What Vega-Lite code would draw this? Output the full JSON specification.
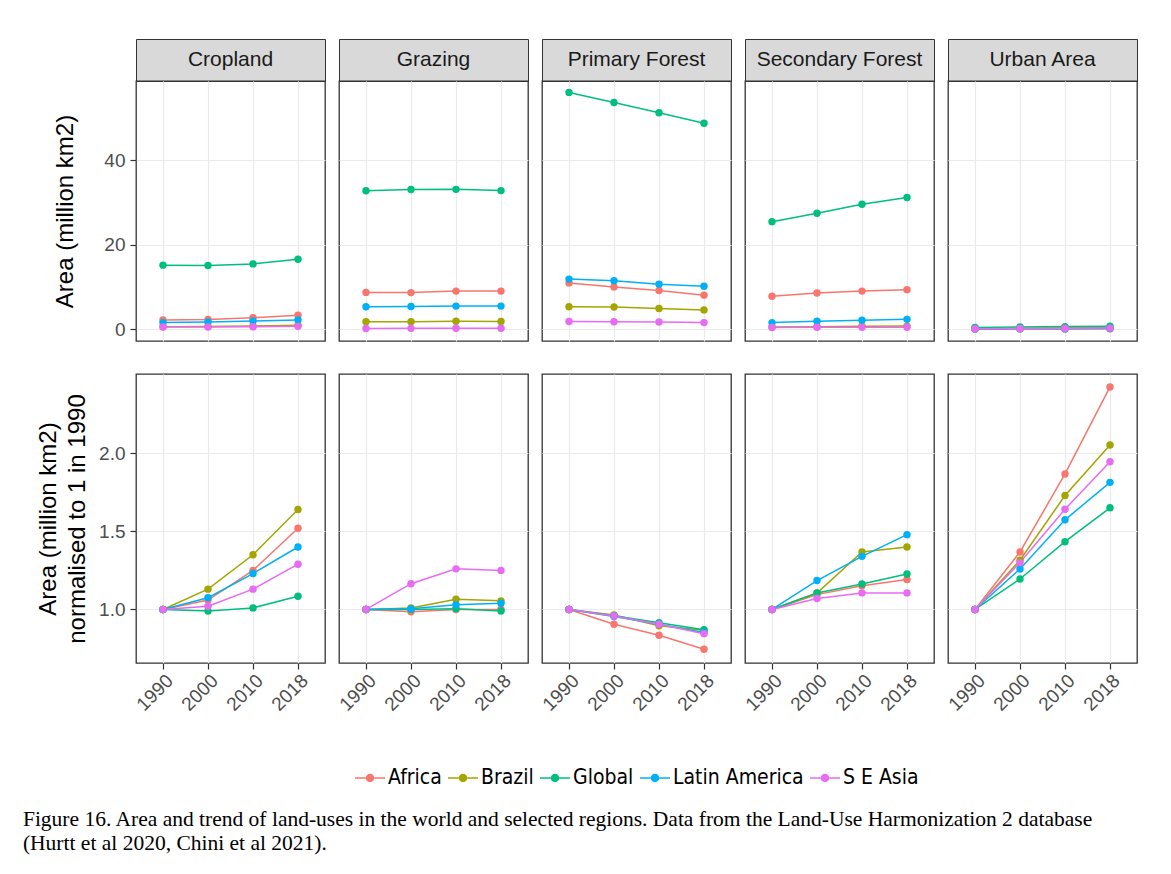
{
  "$schema": "https://vega.github.io/schema/vega-lite/v6.json",
  "background": "white",
  "padding": {"left": 22, "top": 38, "right": 5, "bottom": 5},
  "config": {
    "view": {"stroke": "#333333", "strokeWidth": 1.3},
    "axis": {"gridColor": "#ebebeb", "gridWidth": 1.2, "tickColor": "#333333", "tickSize": 6, "tickWidth": 1.2, "labelColor": "#4d4d4d", "labelFont": "Liberation Sans", "labelFontSize": 19, "labelPadding": 5, "domain": false, "titleFont": "Liberation Sans", "titleFontSize": 24, "titleFontWeight": "normal", "titleColor": "#000000"},
    "line": {"strokeWidth": 1.5},
    "point": {"filled": true, "size": 55, "opacity": 1},
    "title": {"font": "Liberation Serif", "fontSize": 21.5, "fontWeight": "normal", "color": "#000000"}
  },
  "title": {"text": ["Figure 16. Area and trend of land-uses in the world and selected regions. Data from the Land-Use Harmonization 2 database", "(Hurtt et al 2020, Chini et al 2021)."], "orient": "bottom", "anchor": "start", "lineHeight": 24, "offset": 21, "dx": -13},
  "datasets": {
    "abs": [
      {"use": "Cropland", "region": "Africa", "year": 1990, "value": 2.2}, {"use": "Cropland", "region": "Africa", "year": 2000, "value": 2.35}, {"use": "Cropland", "region": "Africa", "year": 2010, "value": 2.75}, {"use": "Cropland", "region": "Africa", "year": 2018, "value": 3.35},
      {"use": "Cropland", "region": "Brazil", "year": 1990, "value": 0.6}, {"use": "Cropland", "region": "Brazil", "year": 2000, "value": 0.68}, {"use": "Cropland", "region": "Brazil", "year": 2010, "value": 0.81}, {"use": "Cropland", "region": "Brazil", "year": 2018, "value": 0.98},
      {"use": "Cropland", "region": "Global", "year": 1990, "value": 15.2}, {"use": "Cropland", "region": "Global", "year": 2000, "value": 15.1}, {"use": "Cropland", "region": "Global", "year": 2010, "value": 15.5}, {"use": "Cropland", "region": "Global", "year": 2018, "value": 16.6},
      {"use": "Cropland", "region": "Latin America", "year": 1990, "value": 1.6}, {"use": "Cropland", "region": "Latin America", "year": 2000, "value": 1.72}, {"use": "Cropland", "region": "Latin America", "year": 2010, "value": 1.97}, {"use": "Cropland", "region": "Latin America", "year": 2018, "value": 2.24},
      {"use": "Cropland", "region": "S E Asia", "year": 1990, "value": 0.55}, {"use": "Cropland", "region": "S E Asia", "year": 2000, "value": 0.56}, {"use": "Cropland", "region": "S E Asia", "year": 2010, "value": 0.62}, {"use": "Cropland", "region": "S E Asia", "year": 2018, "value": 0.71},
      {"use": "Grazing", "region": "Africa", "year": 1990, "value": 8.75}, {"use": "Grazing", "region": "Africa", "year": 2000, "value": 8.7}, {"use": "Grazing", "region": "Africa", "year": 2010, "value": 9.05}, {"use": "Grazing", "region": "Africa", "year": 2018, "value": 9.05},
      {"use": "Grazing", "region": "Brazil", "year": 1990, "value": 1.8}, {"use": "Grazing", "region": "Brazil", "year": 2000, "value": 1.82}, {"use": "Grazing", "region": "Brazil", "year": 2010, "value": 1.9}, {"use": "Grazing", "region": "Brazil", "year": 2018, "value": 1.88},
      {"use": "Grazing", "region": "Global", "year": 1990, "value": 32.8}, {"use": "Grazing", "region": "Global", "year": 2000, "value": 33.1}, {"use": "Grazing", "region": "Global", "year": 2010, "value": 33.15}, {"use": "Grazing", "region": "Global", "year": 2018, "value": 32.85},
      {"use": "Grazing", "region": "Latin America", "year": 1990, "value": 5.35}, {"use": "Grazing", "region": "Latin America", "year": 2000, "value": 5.4}, {"use": "Grazing", "region": "Latin America", "year": 2010, "value": 5.5}, {"use": "Grazing", "region": "Latin America", "year": 2018, "value": 5.5},
      {"use": "Grazing", "region": "S E Asia", "year": 1990, "value": 0.2}, {"use": "Grazing", "region": "S E Asia", "year": 2000, "value": 0.23}, {"use": "Grazing", "region": "S E Asia", "year": 2010, "value": 0.25}, {"use": "Grazing", "region": "S E Asia", "year": 2018, "value": 0.25},
      {"use": "Primary Forest", "region": "Africa", "year": 1990, "value": 11.0}, {"use": "Primary Forest", "region": "Africa", "year": 2000, "value": 10.05}, {"use": "Primary Forest", "region": "Africa", "year": 2010, "value": 9.2}, {"use": "Primary Forest", "region": "Africa", "year": 2018, "value": 8.1},
      {"use": "Primary Forest", "region": "Brazil", "year": 1990, "value": 5.35}, {"use": "Primary Forest", "region": "Brazil", "year": 2000, "value": 5.3}, {"use": "Primary Forest", "region": "Brazil", "year": 2010, "value": 4.95}, {"use": "Primary Forest", "region": "Brazil", "year": 2018, "value": 4.6},
      {"use": "Primary Forest", "region": "Global", "year": 1990, "value": 56.1}, {"use": "Primary Forest", "region": "Global", "year": 2000, "value": 53.7}, {"use": "Primary Forest", "region": "Global", "year": 2010, "value": 51.3}, {"use": "Primary Forest", "region": "Global", "year": 2018, "value": 48.8},
      {"use": "Primary Forest", "region": "Latin America", "year": 1990, "value": 11.9}, {"use": "Primary Forest", "region": "Latin America", "year": 2000, "value": 11.5}, {"use": "Primary Forest", "region": "Latin America", "year": 2010, "value": 10.7}, {"use": "Primary Forest", "region": "Latin America", "year": 2018, "value": 10.2},
      {"use": "Primary Forest", "region": "S E Asia", "year": 1990, "value": 1.85}, {"use": "Primary Forest", "region": "S E Asia", "year": 2000, "value": 1.8}, {"use": "Primary Forest", "region": "S E Asia", "year": 2010, "value": 1.72}, {"use": "Primary Forest", "region": "S E Asia", "year": 2018, "value": 1.6},
      {"use": "Secondary Forest", "region": "Africa", "year": 1990, "value": 7.85}, {"use": "Secondary Forest", "region": "Africa", "year": 2000, "value": 8.6}, {"use": "Secondary Forest", "region": "Africa", "year": 2010, "value": 9.05}, {"use": "Secondary Forest", "region": "Africa", "year": 2018, "value": 9.4},
      {"use": "Secondary Forest", "region": "Brazil", "year": 1990, "value": 0.55}, {"use": "Secondary Forest", "region": "Brazil", "year": 2000, "value": 0.6}, {"use": "Secondary Forest", "region": "Brazil", "year": 2010, "value": 0.75}, {"use": "Secondary Forest", "region": "Brazil", "year": 2018, "value": 0.77},
      {"use": "Secondary Forest", "region": "Global", "year": 1990, "value": 25.5}, {"use": "Secondary Forest", "region": "Global", "year": 2000, "value": 27.5}, {"use": "Secondary Forest", "region": "Global", "year": 2010, "value": 29.6}, {"use": "Secondary Forest", "region": "Global", "year": 2018, "value": 31.2},
      {"use": "Secondary Forest", "region": "Latin America", "year": 1990, "value": 1.6}, {"use": "Secondary Forest", "region": "Latin America", "year": 2000, "value": 1.9}, {"use": "Secondary Forest", "region": "Latin America", "year": 2010, "value": 2.15}, {"use": "Secondary Forest", "region": "Latin America", "year": 2018, "value": 2.37},
      {"use": "Secondary Forest", "region": "S E Asia", "year": 1990, "value": 0.45}, {"use": "Secondary Forest", "region": "S E Asia", "year": 2000, "value": 0.48}, {"use": "Secondary Forest", "region": "S E Asia", "year": 2010, "value": 0.5}, {"use": "Secondary Forest", "region": "S E Asia", "year": 2018, "value": 0.5},
      {"use": "Urban Area", "region": "Africa", "year": 1990, "value": 0.05}, {"use": "Urban Area", "region": "Africa", "year": 2000, "value": 0.07}, {"use": "Urban Area", "region": "Africa", "year": 2010, "value": 0.09}, {"use": "Urban Area", "region": "Africa", "year": 2018, "value": 0.12},
      {"use": "Urban Area", "region": "Brazil", "year": 1990, "value": 0.2}, {"use": "Urban Area", "region": "Brazil", "year": 2000, "value": 0.26}, {"use": "Urban Area", "region": "Brazil", "year": 2010, "value": 0.35}, {"use": "Urban Area", "region": "Brazil", "year": 2018, "value": 0.41},
      {"use": "Urban Area", "region": "Global", "year": 1990, "value": 0.45}, {"use": "Urban Area", "region": "Global", "year": 2000, "value": 0.54}, {"use": "Urban Area", "region": "Global", "year": 2010, "value": 0.65}, {"use": "Urban Area", "region": "Global", "year": 2018, "value": 0.74},
      {"use": "Urban Area", "region": "Latin America", "year": 1990, "value": 0.1}, {"use": "Urban Area", "region": "Latin America", "year": 2000, "value": 0.13}, {"use": "Urban Area", "region": "Latin America", "year": 2010, "value": 0.16}, {"use": "Urban Area", "region": "Latin America", "year": 2018, "value": 0.18},
      {"use": "Urban Area", "region": "S E Asia", "year": 1990, "value": 0.15}, {"use": "Urban Area", "region": "S E Asia", "year": 2000, "value": 0.19}, {"use": "Urban Area", "region": "S E Asia", "year": 2010, "value": 0.25}, {"use": "Urban Area", "region": "S E Asia", "year": 2018, "value": 0.29}
    ],
    "norm": [
      {"use": "Cropland", "region": "Africa", "year": 1990, "value": 1}, {"use": "Cropland", "region": "Africa", "year": 2000, "value": 1.06}, {"use": "Cropland", "region": "Africa", "year": 2010, "value": 1.25}, {"use": "Cropland", "region": "Africa", "year": 2018, "value": 1.52},
      {"use": "Cropland", "region": "Brazil", "year": 1990, "value": 1}, {"use": "Cropland", "region": "Brazil", "year": 2000, "value": 1.13}, {"use": "Cropland", "region": "Brazil", "year": 2010, "value": 1.35}, {"use": "Cropland", "region": "Brazil", "year": 2018, "value": 1.64},
      {"use": "Cropland", "region": "Global", "year": 1990, "value": 1}, {"use": "Cropland", "region": "Global", "year": 2000, "value": 0.99}, {"use": "Cropland", "region": "Global", "year": 2010, "value": 1.01}, {"use": "Cropland", "region": "Global", "year": 2018, "value": 1.085},
      {"use": "Cropland", "region": "Latin America", "year": 1990, "value": 1}, {"use": "Cropland", "region": "Latin America", "year": 2000, "value": 1.075}, {"use": "Cropland", "region": "Latin America", "year": 2010, "value": 1.23}, {"use": "Cropland", "region": "Latin America", "year": 2018, "value": 1.4},
      {"use": "Cropland", "region": "S E Asia", "year": 1990, "value": 1}, {"use": "Cropland", "region": "S E Asia", "year": 2000, "value": 1.02}, {"use": "Cropland", "region": "S E Asia", "year": 2010, "value": 1.13}, {"use": "Cropland", "region": "S E Asia", "year": 2018, "value": 1.29},
      {"use": "Grazing", "region": "Africa", "year": 1990, "value": 1}, {"use": "Grazing", "region": "Africa", "year": 2000, "value": 0.985}, {"use": "Grazing", "region": "Africa", "year": 2010, "value": 1.0}, {"use": "Grazing", "region": "Africa", "year": 2018, "value": 1.0},
      {"use": "Grazing", "region": "Brazil", "year": 1990, "value": 1}, {"use": "Grazing", "region": "Brazil", "year": 2000, "value": 1.01}, {"use": "Grazing", "region": "Brazil", "year": 2010, "value": 1.065}, {"use": "Grazing", "region": "Brazil", "year": 2018, "value": 1.055},
      {"use": "Grazing", "region": "Global", "year": 1990, "value": 1}, {"use": "Grazing", "region": "Global", "year": 2000, "value": 1.0}, {"use": "Grazing", "region": "Global", "year": 2010, "value": 1.005}, {"use": "Grazing", "region": "Global", "year": 2018, "value": 0.99},
      {"use": "Grazing", "region": "Latin America", "year": 1990, "value": 1}, {"use": "Grazing", "region": "Latin America", "year": 2000, "value": 1.005}, {"use": "Grazing", "region": "Latin America", "year": 2010, "value": 1.03}, {"use": "Grazing", "region": "Latin America", "year": 2018, "value": 1.04},
      {"use": "Grazing", "region": "S E Asia", "year": 1990, "value": 1}, {"use": "Grazing", "region": "S E Asia", "year": 2000, "value": 1.165}, {"use": "Grazing", "region": "S E Asia", "year": 2010, "value": 1.26}, {"use": "Grazing", "region": "S E Asia", "year": 2018, "value": 1.25},
      {"use": "Primary Forest", "region": "Africa", "year": 1990, "value": 1}, {"use": "Primary Forest", "region": "Africa", "year": 2000, "value": 0.905}, {"use": "Primary Forest", "region": "Africa", "year": 2010, "value": 0.835}, {"use": "Primary Forest", "region": "Africa", "year": 2018, "value": 0.745},
      {"use": "Primary Forest", "region": "Brazil", "year": 1990, "value": 1}, {"use": "Primary Forest", "region": "Brazil", "year": 2000, "value": 0.965}, {"use": "Primary Forest", "region": "Brazil", "year": 2010, "value": 0.895}, {"use": "Primary Forest", "region": "Brazil", "year": 2018, "value": 0.867},
      {"use": "Primary Forest", "region": "Global", "year": 1990, "value": 1}, {"use": "Primary Forest", "region": "Global", "year": 2000, "value": 0.96}, {"use": "Primary Forest", "region": "Global", "year": 2010, "value": 0.915}, {"use": "Primary Forest", "region": "Global", "year": 2018, "value": 0.87},
      {"use": "Primary Forest", "region": "Latin America", "year": 1990, "value": 1}, {"use": "Primary Forest", "region": "Latin America", "year": 2000, "value": 0.955}, {"use": "Primary Forest", "region": "Latin America", "year": 2010, "value": 0.905}, {"use": "Primary Forest", "region": "Latin America", "year": 2018, "value": 0.853},
      {"use": "Primary Forest", "region": "S E Asia", "year": 1990, "value": 1}, {"use": "Primary Forest", "region": "S E Asia", "year": 2000, "value": 0.958}, {"use": "Primary Forest", "region": "S E Asia", "year": 2010, "value": 0.905}, {"use": "Primary Forest", "region": "S E Asia", "year": 2018, "value": 0.845},
      {"use": "Secondary Forest", "region": "Africa", "year": 1990, "value": 1}, {"use": "Secondary Forest", "region": "Africa", "year": 2000, "value": 1.095}, {"use": "Secondary Forest", "region": "Africa", "year": 2010, "value": 1.152}, {"use": "Secondary Forest", "region": "Africa", "year": 2018, "value": 1.192},
      {"use": "Secondary Forest", "region": "Brazil", "year": 1990, "value": 1}, {"use": "Secondary Forest", "region": "Brazil", "year": 2000, "value": 1.105}, {"use": "Secondary Forest", "region": "Brazil", "year": 2010, "value": 1.368}, {"use": "Secondary Forest", "region": "Brazil", "year": 2018, "value": 1.4},
      {"use": "Secondary Forest", "region": "Global", "year": 1990, "value": 1}, {"use": "Secondary Forest", "region": "Global", "year": 2000, "value": 1.105}, {"use": "Secondary Forest", "region": "Global", "year": 2010, "value": 1.163}, {"use": "Secondary Forest", "region": "Global", "year": 2018, "value": 1.227},
      {"use": "Secondary Forest", "region": "Latin America", "year": 1990, "value": 1}, {"use": "Secondary Forest", "region": "Latin America", "year": 2000, "value": 1.185}, {"use": "Secondary Forest", "region": "Latin America", "year": 2010, "value": 1.34}, {"use": "Secondary Forest", "region": "Latin America", "year": 2018, "value": 1.479},
      {"use": "Secondary Forest", "region": "S E Asia", "year": 1990, "value": 1}, {"use": "Secondary Forest", "region": "S E Asia", "year": 2000, "value": 1.07}, {"use": "Secondary Forest", "region": "S E Asia", "year": 2010, "value": 1.106}, {"use": "Secondary Forest", "region": "S E Asia", "year": 2018, "value": 1.106},
      {"use": "Urban Area", "region": "Africa", "year": 1990, "value": 1}, {"use": "Urban Area", "region": "Africa", "year": 2000, "value": 1.368}, {"use": "Urban Area", "region": "Africa", "year": 2010, "value": 1.868}, {"use": "Urban Area", "region": "Africa", "year": 2018, "value": 2.425},
      {"use": "Urban Area", "region": "Brazil", "year": 1990, "value": 1}, {"use": "Urban Area", "region": "Brazil", "year": 2000, "value": 1.315}, {"use": "Urban Area", "region": "Brazil", "year": 2010, "value": 1.73}, {"use": "Urban Area", "region": "Brazil", "year": 2018, "value": 2.053},
      {"use": "Urban Area", "region": "Global", "year": 1990, "value": 1}, {"use": "Urban Area", "region": "Global", "year": 2000, "value": 1.195}, {"use": "Urban Area", "region": "Global", "year": 2010, "value": 1.434}, {"use": "Urban Area", "region": "Global", "year": 2018, "value": 1.651},
      {"use": "Urban Area", "region": "Latin America", "year": 1990, "value": 1}, {"use": "Urban Area", "region": "Latin America", "year": 2000, "value": 1.259}, {"use": "Urban Area", "region": "Latin America", "year": 2010, "value": 1.574}, {"use": "Urban Area", "region": "Latin America", "year": 2018, "value": 1.814},
      {"use": "Urban Area", "region": "S E Asia", "year": 1990, "value": 1}, {"use": "Urban Area", "region": "S E Asia", "year": 2000, "value": 1.3}, {"use": "Urban Area", "region": "S E Asia", "year": 2010, "value": 1.642}, {"use": "Urban Area", "region": "S E Asia", "year": 2018, "value": 1.946}
    ]
  },
  "columns": 5,
  "spacing": {"row": 0, "column": 14},
  "bounds": "flush",
  "concat": [
    {"width": 189, "height": 42, "view": {"fill": "#d9d9d9", "stroke": "#333333"}, "data": {"values": [{"use": "Cropland"}]}, "mark": {"type": "text", "font": "Liberation Sans", "fontSize": 21, "color": "#1a1a1a"}, "encoding": {"text": {"field": "use"}}},
    {"width": 189, "height": 42, "view": {"fill": "#d9d9d9", "stroke": "#333333"}, "data": {"values": [{"use": "Grazing"}]}, "mark": {"type": "text", "font": "Liberation Sans", "fontSize": 21, "color": "#1a1a1a"}, "encoding": {"text": {"field": "use"}}},
    {"width": 189, "height": 42, "view": {"fill": "#d9d9d9", "stroke": "#333333"}, "data": {"values": [{"use": "Primary Forest"}]}, "mark": {"type": "text", "font": "Liberation Sans", "fontSize": 21, "color": "#1a1a1a"}, "encoding": {"text": {"field": "use"}}},
    {"width": 189, "height": 42, "view": {"fill": "#d9d9d9", "stroke": "#333333"}, "data": {"values": [{"use": "Secondary Forest"}]}, "mark": {"type": "text", "font": "Liberation Sans", "fontSize": 21, "color": "#1a1a1a"}, "encoding": {"text": {"field": "use"}}},
    {"width": 189, "height": 42, "view": {"fill": "#d9d9d9", "stroke": "#333333"}, "data": {"values": [{"use": "Urban Area"}]}, "mark": {"type": "text", "font": "Liberation Sans", "fontSize": 21, "color": "#1a1a1a"}, "encoding": {"text": {"field": "use"}}},

    {"width": 189, "height": 260, "data": {"name": "abs"}, "transform": [{"filter": {"field": "use", "equal": "Cropland"}}],
     "encoding": {"x": {"field": "year", "type": "ordinal", "scale": {"type": "point", "padding": 0.6}, "axis": {"grid": true, "labels": false, "ticks": false, "title": null}},
       "y": {"field": "value", "type": "quantitative", "scale": {"domain": [-2.76, 58.8], "nice": false, "zero": false}, "axis": {"values": [0, 20, 40], "title": "Area (million km2)", "titlePadding": 26}},
       "color": {"field": "region", "type": "nominal", "scale": {"domain": ["Africa", "Brazil", "Global", "Latin America", "S E Asia"], "range": ["#F8766D", "#A3A500", "#00BF7D", "#00B0F6", "#E76BF3"]},
         "legend": {"orient": "none", "legendX": 219, "legendY": 724, "direction": "horizontal", "title": null, "symbolType": "M-1,-0.055H-0.28V0.055H-1Z M0.28,-0.055H1V0.055H0.28Z M-0.28,0A0.28,0.28,0,1,0,0.28,0A0.28,0.28,0,1,0,-0.28,0Z", "symbolSize": 900, "symbolStrokeWidth": 0, "labelFont": "DejaVu Sans Condensed, Liberation Sans", "labelFontSize": 21, "labelColor": "#000000", "labelOffset": 3, "columnPadding": 6,
           "encode": {"symbols": {"update": {"fill": {"scale": "color", "field": "value"}, "stroke": {"value": "transparent"}, "opacity": {"value": 1}}}}}}},
     "layer": [{"mark": "line"}, {"mark": "point"}]},
    {"width": 189, "height": 260, "data": {"name": "abs"}, "transform": [{"filter": {"field": "use", "equal": "Grazing"}}],
     "encoding": {"x": {"field": "year", "type": "ordinal", "scale": {"type": "point", "padding": 0.6}, "axis": {"grid": true, "labels": false, "ticks": false, "title": null}},
       "y": {"field": "value", "type": "quantitative", "scale": {"domain": [-2.76, 58.8], "nice": false, "zero": false}, "axis": {"values": [0, 20, 40], "labels": false, "ticks": false, "title": null}},
       "color": {"field": "region", "type": "nominal", "scale": {"domain": ["Africa", "Brazil", "Global", "Latin America", "S E Asia"], "range": ["#F8766D", "#A3A500", "#00BF7D", "#00B0F6", "#E76BF3"]}}},
     "layer": [{"mark": "line"}, {"mark": "point"}]},
    {"width": 189, "height": 260, "data": {"name": "abs"}, "transform": [{"filter": {"field": "use", "equal": "Primary Forest"}}],
     "encoding": {"x": {"field": "year", "type": "ordinal", "scale": {"type": "point", "padding": 0.6}, "axis": {"grid": true, "labels": false, "ticks": false, "title": null}},
       "y": {"field": "value", "type": "quantitative", "scale": {"domain": [-2.76, 58.8], "nice": false, "zero": false}, "axis": {"values": [0, 20, 40], "labels": false, "ticks": false, "title": null}},
       "color": {"field": "region", "type": "nominal", "scale": {"domain": ["Africa", "Brazil", "Global", "Latin America", "S E Asia"], "range": ["#F8766D", "#A3A500", "#00BF7D", "#00B0F6", "#E76BF3"]}}},
     "layer": [{"mark": "line"}, {"mark": "point"}]},
    {"width": 189, "height": 260, "data": {"name": "abs"}, "transform": [{"filter": {"field": "use", "equal": "Secondary Forest"}}],
     "encoding": {"x": {"field": "year", "type": "ordinal", "scale": {"type": "point", "padding": 0.6}, "axis": {"grid": true, "labels": false, "ticks": false, "title": null}},
       "y": {"field": "value", "type": "quantitative", "scale": {"domain": [-2.76, 58.8], "nice": false, "zero": false}, "axis": {"values": [0, 20, 40], "labels": false, "ticks": false, "title": null}},
       "color": {"field": "region", "type": "nominal", "scale": {"domain": ["Africa", "Brazil", "Global", "Latin America", "S E Asia"], "range": ["#F8766D", "#A3A500", "#00BF7D", "#00B0F6", "#E76BF3"]}}},
     "layer": [{"mark": "line"}, {"mark": "point"}]},
    {"width": 189, "height": 260, "data": {"name": "abs"}, "transform": [{"filter": {"field": "use", "equal": "Urban Area"}}],
     "encoding": {"x": {"field": "year", "type": "ordinal", "scale": {"type": "point", "padding": 0.6}, "axis": {"grid": true, "labels": false, "ticks": false, "title": null}},
       "y": {"field": "value", "type": "quantitative", "scale": {"domain": [-2.76, 58.8], "nice": false, "zero": false}, "axis": {"values": [0, 20, 40], "labels": false, "ticks": false, "title": null}},
       "color": {"field": "region", "type": "nominal", "scale": {"domain": ["Africa", "Brazil", "Global", "Latin America", "S E Asia"], "range": ["#F8766D", "#A3A500", "#00BF7D", "#00B0F6", "#E76BF3"]}}},
     "layer": [{"mark": "line"}, {"mark": "point"}]},

    {"width": 189, "height": 33, "view": {"stroke": null}, "data": {"values": []}, "mark": "point"},
    {"width": 189, "height": 33, "view": {"stroke": null}, "data": {"values": []}, "mark": "point"},
    {"width": 189, "height": 33, "view": {"stroke": null}, "data": {"values": []}, "mark": "point"},
    {"width": 189, "height": 33, "view": {"stroke": null}, "data": {"values": []}, "mark": "point"},
    {"width": 189, "height": 33, "view": {"stroke": null}, "data": {"values": []}, "mark": "point"},

    {"width": 189, "height": 289, "data": {"name": "norm"}, "transform": [{"filter": {"field": "use", "equal": "Cropland"}}],
     "encoding": {"x": {"field": "year", "type": "ordinal", "scale": {"type": "point", "padding": 0.6}, "axis": {"grid": true, "title": null, "labelAngle": -45, "labelAlign": "right", "labelBaseline": "top", "labelPadding": 2}},
       "y": {"field": "value", "type": "quantitative", "scale": {"domain": [0.657, 2.508], "nice": false, "zero": false}, "axis": {"values": [1, 1.5, 2], "format": ".1f", "title": ["Area (million km2)", "normalised to 1 in 1990"], "titlePadding": 9, "titleLineHeight": 29}},
       "color": {"field": "region", "type": "nominal", "scale": {"domain": ["Africa", "Brazil", "Global", "Latin America", "S E Asia"], "range": ["#F8766D", "#A3A500", "#00BF7D", "#00B0F6", "#E76BF3"]}}},
     "layer": [{"mark": "line"}, {"mark": "point"}]},
    {"width": 189, "height": 289, "data": {"name": "norm"}, "transform": [{"filter": {"field": "use", "equal": "Grazing"}}],
     "encoding": {"x": {"field": "year", "type": "ordinal", "scale": {"type": "point", "padding": 0.6}, "axis": {"grid": true, "title": null, "labelAngle": -45, "labelAlign": "right", "labelBaseline": "top", "labelPadding": 2}},
       "y": {"field": "value", "type": "quantitative", "scale": {"domain": [0.657, 2.508], "nice": false, "zero": false}, "axis": {"values": [1, 1.5, 2], "labels": false, "ticks": false, "title": null}},
       "color": {"field": "region", "type": "nominal", "scale": {"domain": ["Africa", "Brazil", "Global", "Latin America", "S E Asia"], "range": ["#F8766D", "#A3A500", "#00BF7D", "#00B0F6", "#E76BF3"]}}},
     "layer": [{"mark": "line"}, {"mark": "point"}]},
    {"width": 189, "height": 289, "data": {"name": "norm"}, "transform": [{"filter": {"field": "use", "equal": "Primary Forest"}}],
     "encoding": {"x": {"field": "year", "type": "ordinal", "scale": {"type": "point", "padding": 0.6}, "axis": {"grid": true, "title": null, "labelAngle": -45, "labelAlign": "right", "labelBaseline": "top", "labelPadding": 2}},
       "y": {"field": "value", "type": "quantitative", "scale": {"domain": [0.657, 2.508], "nice": false, "zero": false}, "axis": {"values": [1, 1.5, 2], "labels": false, "ticks": false, "title": null}},
       "color": {"field": "region", "type": "nominal", "scale": {"domain": ["Africa", "Brazil", "Global", "Latin America", "S E Asia"], "range": ["#F8766D", "#A3A500", "#00BF7D", "#00B0F6", "#E76BF3"]}}},
     "layer": [{"mark": "line"}, {"mark": "point"}]},
    {"width": 189, "height": 289, "data": {"name": "norm"}, "transform": [{"filter": {"field": "use", "equal": "Secondary Forest"}}],
     "encoding": {"x": {"field": "year", "type": "ordinal", "scale": {"type": "point", "padding": 0.6}, "axis": {"grid": true, "title": null, "labelAngle": -45, "labelAlign": "right", "labelBaseline": "top", "labelPadding": 2}},
       "y": {"field": "value", "type": "quantitative", "scale": {"domain": [0.657, 2.508], "nice": false, "zero": false}, "axis": {"values": [1, 1.5, 2], "labels": false, "ticks": false, "title": null}},
       "color": {"field": "region", "type": "nominal", "scale": {"domain": ["Africa", "Brazil", "Global", "Latin America", "S E Asia"], "range": ["#F8766D", "#A3A500", "#00BF7D", "#00B0F6", "#E76BF3"]}}},
     "layer": [{"mark": "line"}, {"mark": "point"}]},
    {"width": 189, "height": 289, "data": {"name": "norm"}, "transform": [{"filter": {"field": "use", "equal": "Urban Area"}}],
     "encoding": {"x": {"field": "year", "type": "ordinal", "scale": {"type": "point", "padding": 0.6}, "axis": {"grid": true, "title": null, "labelAngle": -45, "labelAlign": "right", "labelBaseline": "top", "labelPadding": 2}},
       "y": {"field": "value", "type": "quantitative", "scale": {"domain": [0.657, 2.508], "nice": false, "zero": false}, "axis": {"values": [1, 1.5, 2], "labels": false, "ticks": false, "title": null}},
       "color": {"field": "region", "type": "nominal", "scale": {"domain": ["Africa", "Brazil", "Global", "Latin America", "S E Asia"], "range": ["#F8766D", "#A3A500", "#00BF7D", "#00B0F6", "#E76BF3"]}}},
     "layer": [{"mark": "line"}, {"mark": "point"}]}
  ]
}
